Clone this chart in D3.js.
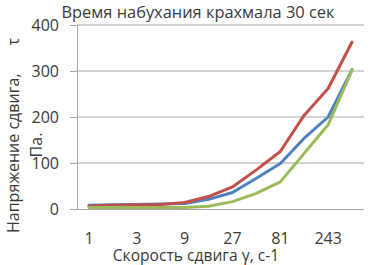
<!DOCTYPE html>
<html><head><meta charset="utf-8">
<script src="https://cdn.jsdelivr.net/npm/d3@7"></script>
<style>
html,body{margin:0;padding:0;background:#fff;}
svg{display:block;}
text{font-family:"Open Sans",sans-serif;fill:#3a3a3a;}
</style></head>
<body>
<svg id="c" width="392" height="265"></svg>
<script>
const categories = ["1","1.8","3","5.4","9","16.2","27","48.6","81","145.8","243","437.4"];
const shownLabels = ["1","3","9","27","81","243"];
const seriesBlue  = [8, 9, 10, 11, 12, 21, 36, 67, 99, 154, 200, 303];
const seriesRed   = [6, 8, 9, 10, 14, 27, 48, 85, 125, 204, 262, 363];
const seriesGreen = [3, 3, 3, 3, 3, 6, 16, 34, 59, 121, 183, 302];
const yTicks = [0, 100, 200, 300, 400];
const titleText = "Время набухания крахмала 30 сек";
const xTitle = "Скорость сдвига γ, с-1";
const yTitle1 = "Напряжение сдвига,";
const yTitle1b = "τ";
const yTitle2 = "Па.";

const series = [
  {name:"blue", values: seriesBlue, color:"#4F81BD"},
  {name:"red", values: seriesRed, color:"#C0504D"},
  {name:"green", values: seriesGreen, color:"#9BBB59"}
];

const svg = d3.select("#c");
const L = 77, R = 364, T = 25, B = 209;
const x = d3.scaleBand().domain(categories).range([L, R]).paddingInner(0).paddingOuter(0);
const y = d3.scaleLinear().domain([0, 400]).range([B, T]);
const cx = d => x(d) + x.bandwidth()/2;

// gridlines
svg.append("g").selectAll("line").data(yTicks.filter(t => t > 0)).join("line")
  .attr("x1", L).attr("x2", R).attr("y1", d => y(d)).attr("y2", d => y(d))
  .attr("stroke", "#a6a6a6").attr("stroke-width", 1);

// y axis
const yAxis = d3.axisLeft(y).tickValues(yTicks).tickSize(7).tickPadding(11).tickFormat(d3.format("d"));
const gy = svg.append("g").attr("transform", `translate(${L},0)`).call(yAxis);
gy.select(".domain").attr("stroke", "#a6a6a6");
gy.selectAll(".tick line").attr("stroke", "#a6a6a6");
gy.selectAll(".tick text").attr("font-size", 16).attr("fill", "#3a3a3a").attr("font-family", "Open Sans");

// x axis
const xAxis = d3.axisBottom(x).tickSize(0).tickPadding(24)
  .tickFormat(d => shownLabels.includes(d) ? d : "");
const gx = svg.append("g").attr("transform", `translate(0,${B})`).call(xAxis);
gx.select(".domain").attr("stroke", "#a6a6a6").attr("d", `M${L-7},0.5H${R}`);
gx.selectAll(".tick").filter(d => !shownLabels.includes(d)).select("text").remove();
gx.selectAll(".tick text").attr("font-size", 16).attr("fill", "#3a3a3a").attr("font-family", "Open Sans");

// lines
const line = d3.line().x((d, i) => cx(categories[i])).y(d => y(d));
svg.append("g").selectAll("path").data(series).join("path")
  .attr("d", d => line(d.values))
  .attr("fill", "none").attr("stroke", d => d.color).attr("stroke-width", 3)
  .attr("stroke-linejoin", "round").attr("stroke-linecap", "round");

// titles
svg.append("text").attr("x", 198).attr("y", 17.5).attr("text-anchor", "middle")
  .attr("font-size", 16.4).text(titleText);
svg.append("text").attr("x", 196).attr("y", 260.5).attr("text-anchor", "middle")
  .attr("font-size", 15.6).text(xTitle);
svg.append("text").attr("transform", "translate(19,233) rotate(-90)")
  .attr("font-size", 16).attr("text-anchor", "start").text(yTitle1);
svg.append("text").attr("transform", "translate(19,38) rotate(-90)")
  .attr("font-size", 16).attr("text-anchor", "end").text(yTitle1b);
svg.append("text").attr("transform", "translate(42,145) rotate(-90)")
  .attr("font-size", 16).attr("text-anchor", "middle").text(yTitle2);
</script>
</body></html>
